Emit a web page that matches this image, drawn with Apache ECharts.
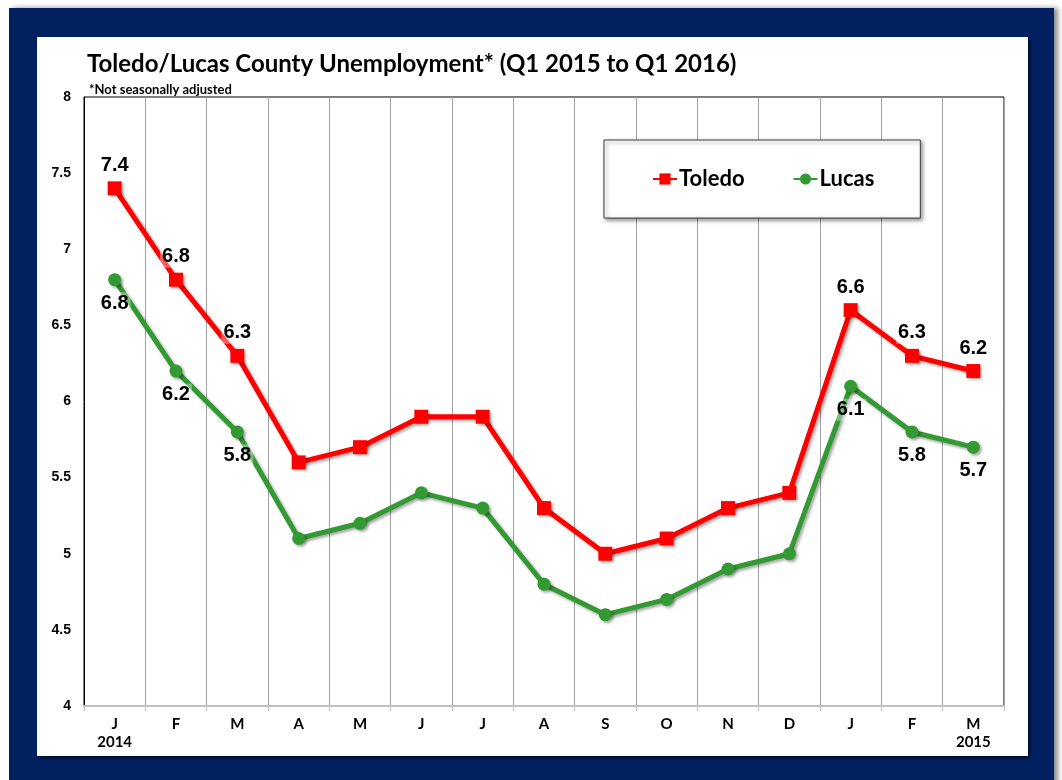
<!DOCTYPE html>
<html>
<head>
<meta charset="utf-8">
<script src="https://cdn.jsdelivr.net/npm/echarts@6/dist/echarts.min.js"></script>
<style>
  html, body { margin: 0; padding: 0; background: #ffffff; }
  #stage { position: relative; width: 1062px; height: 780px; overflow: hidden; background: #fff; }
  #navy { position: absolute; left: 9px; top: 8px; width: 1045px; height: 790px; background: #002060;
          box-shadow: 4px 0 5px rgba(0,0,0,0.45); }
  #inner { position: absolute; left: 37px; top: 37px; width: 991px; height: 719px; background: #ffffff;
           box-shadow: 2px 2px 2px rgba(0,0,0,0.55); }
  #chart { position: absolute; left: 0; top: 0; width: 1062px; height: 780px; }
</style>
</head>
<body>
<div id="stage">
  <div id="navy"></div>
  <div id="inner"></div>
  <div id="chart"></div>
</div>
<script>
// ---- data ----
const months = ['J', 'F', 'M', 'A', 'M', 'J', 'J', 'A', 'S', 'O', 'N', 'D', 'J', 'F', 'M'];
const yearLabels = ['2014', '', '', '', '', '', '', '', '', '', '', '', '', '', '2015'];
const toledo = [7.4, 6.8, 6.3, 5.6, 5.7, 5.9, 5.9, 5.3, 5.0, 5.1, 5.3, 5.4, 6.6, 6.3, 6.2];
const lucas  = [6.8, 6.2, 5.8, 5.1, 5.2, 5.4, 5.3, 4.8, 4.6, 4.7, 4.9, 5.0, 6.1, 5.8, 5.7];
const labeledIdx = [0, 1, 2, 12, 13, 14];
const yTicks = [4, 4.5, 5, 5.5, 6, 6.5, 7, 7.5, 8];

const categories = months.map((m, i) => yearLabels[i] ? m + '\n' + yearLabels[i] : m);

const shadow = { shadowColor: 'rgba(0,0,0,0.35)', shadowBlur: 3, shadowOffsetX: 2, shadowOffsetY: 2 };
const labelFont = {
  fontFamily: 'Liberation Sans, Arial, sans-serif', fontWeight: 'bold', fontSize: 20, color: '#000',
  backgroundColor: 'rgba(255,255,255,0.35)', padding: [1, 2]
};

function buildData(arr) {
  return arr.map((v, i) => ({ value: v, label: { show: labeledIdx.indexOf(i) >= 0 } }));
}

const chart = echarts.init(document.getElementById('chart'), null, { renderer: 'canvas' });
chart.setOption({
  animation: false,
  backgroundColor: 'transparent',
  title: [{
    text: 'Toledo/Lucas County Unemployment* (Q1 2015 to Q1 2016)',
    left: 82, top: 47,
    textStyle: { fontFamily: 'Lato, sans-serif', fontWeight: 'bold', fontSize: 24, color: '#000' }
  }, {
    text: '*Not seasonally adjusted',
    left: 84, top: 78,
    textStyle: { fontFamily: 'Lato, sans-serif', fontWeight: 'bold', fontSize: 13, color: '#000' }
  }],
  legend: {
    left: 604, top: 140,
    padding: [28, 46, 28, 48],
    itemGap: 48,
    itemWidth: 24, itemHeight: 14,
    backgroundColor: '#fff',
    borderColor: '#404040', borderWidth: 1,
    shadowColor: 'rgba(0,0,0,0.45)', shadowBlur: 4, shadowOffsetX: 2, shadowOffsetY: 2,
    textStyle: { fontFamily: 'Lato, sans-serif', fontWeight: 'bold', fontSize: 22, color: '#000', padding: [0, 0, 0, -3] },
    data: ['Toledo', 'Lucas']
  },
  grid: {
    left: 84, right: 58, top: 97, bottom: 74,
    show: true, borderColor: '#000', borderWidth: 1, backgroundColor: 'transparent'
  },
  xAxis: {
    type: 'category',
    data: categories,
    boundaryGap: true,
    axisLine: { lineStyle: { color: '#c0c0c0', width: 2 } },
    axisTick: { show: true, length: 5, lineStyle: { color: '#c0c0c0' } },
    splitLine: { show: true, lineStyle: { color: '#a0a0a0', width: 1 } },
    axisLabel: {
      margin: 9, lineHeight: 18,
      fontFamily: 'Lato, sans-serif', fontWeight: 'bold', fontSize: 15, color: '#000'
    }
  },
  yAxis: {
    type: 'value',
    min: yTicks[0], max: yTicks[yTicks.length - 1], interval: 0.5,
    axisLine: { show: true, lineStyle: { color: '#000', width: 1 } },
    axisTick: { show: false },
    splitLine: { show: false },
    axisLabel: {
      margin: 13,
      fontFamily: 'Liberation Sans, Arial, sans-serif', fontWeight: 'bold', fontSize: 14, color: '#000'
    }
  },
  series: [{
    name: 'Toledo',
    type: 'line',
    data: buildData(toledo),
    symbol: 'rect', symbolSize: 14,
    color: '#ff0000',
    lineStyle: Object.assign({ width: 5, color: '#ff0000' }, shadow),
    itemStyle: Object.assign({ color: '#ff0000' }, shadow),
    label: Object.assign({ position: 'top', distance: 5, formatter: p => p.value.toFixed(1) }, labelFont),
    z: 3
  }, {
    name: 'Lucas',
    type: 'line',
    data: buildData(lucas),
    symbol: 'circle', symbolSize: 13,
    color: '#339933',
    lineStyle: Object.assign({ width: 5, color: '#339933' }, shadow),
    itemStyle: Object.assign({ color: '#339933' }, shadow),
    label: Object.assign({ position: 'bottom', distance: 6, formatter: p => p.value.toFixed(1) }, labelFont),
    z: 2
  }]
});
</script>
</body>
</html>
